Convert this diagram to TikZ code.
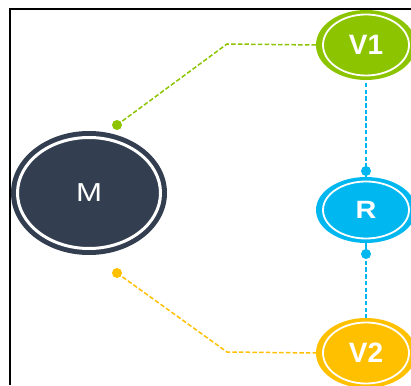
\documentclass[tikz,border=0pt]{standalone}
\usepackage{fontspec}
\setmainfont{Liberation Sans}
\usetikzlibrary{shapes.geometric}
\definecolor{cgreen}{RGB}{140,197,0}
\definecolor{cblue}{RGB}{0,183,240}
\definecolor{cyellow}{RGB}{255,192,0}
\definecolor{cdark}{RGB}{51,63,80}
\tikzset{
  x=1pt, y=1pt,
  bubble/.style={ellipse, inner sep=0pt, outer sep=0pt, text=white, font=\bfseries\fontsize{28}{28}\selectfont},
  ring/.style={draw=white, line width=1.8pt},
  link/.style={line width=1.5pt, dash pattern=on 4.5pt off 2.2pt},
  dot/.style={circle, inner sep=0pt, minimum size=10pt},
}
\begin{document}
\begin{tikzpicture}
\useasboundingbox (0,0) rectangle (411,385);
% frame
\draw[line width=2pt, black] (10,0) -- (10,376) -- (412,376);

% nodes
\node[bubble, fill=cdark, minimum width=156pt, minimum height=124pt, font=\fontsize{26}{26}\selectfont] (m) at (89,192) {\scalebox{1.2}[1]{M}};
\draw[ring, line width=3pt] (m.center) ellipse (71.5 and 55.5);

\node[bubble, fill=cgreen, minimum width=100pt, minimum height=70pt] (v1) at (366,340) {V1};
\draw[ring] (v1.center) ellipse (43 and 30.5);

\node[bubble, fill=cblue, minimum width=100pt, minimum height=66pt, font=\bfseries\fontsize{25}{25}\selectfont] (r) at (366,175) {\scalebox{1.15}[1]{R}};
\draw[ring] (r.center) ellipse (43 and 28.5);

\node[bubble, fill=cyellow, minimum width=100pt, minimum height=70pt] (v2) at (366,32) {V2};
\draw[ring] (v2.center) ellipse (43 and 30.5);

% dots
\node[dot, fill=cgreen] (g) at (117,260) {};
\node[dot, fill=cyellow] (y) at (117,112) {};
\node[dot, fill=cblue] (b1) at (366,214) {};
\node[dot, fill=cblue] (b2) at (366,131) {};
\coordinate (gk) at (227,341);
\coordinate (yk) at (227,33);

% connectors
\draw[link, cgreen] (g.center) -- (gk) -- (v1.west);
\draw[link, cyellow] (y.center) -- (yk) -- (v2.west);
\draw[link, cblue] ([yshift=-3pt]v1.south) -- (b1.center);
\draw[line width=1.5pt, cblue] (b1.center) -- (r.north);
\draw[line width=1.5pt, cblue] (r.south) -- (b2.center);
\draw[link, cblue] (b2.center) -- (v2.north);
\end{tikzpicture}
\end{document}
